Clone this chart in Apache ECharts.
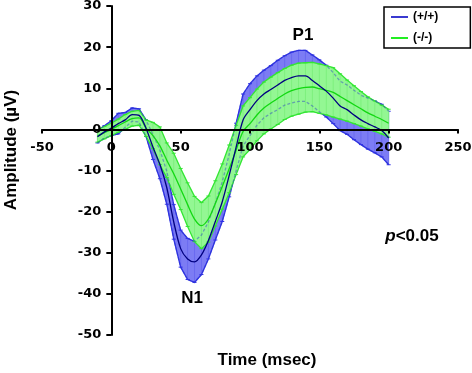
<!DOCTYPE html>
<html>
<head>
<meta charset="utf-8">
<script src="https://cdn.jsdelivr.net/npm/echarts@6/dist/echarts.min.js"></script>
<style>
html, body { margin: 0; padding: 0; background: #fff; }
#chart { width: 472px; height: 373px; }
</style>
</head>
<body>
<div id="chart"></div>
<script>
// time points (msec)
var times = [-10, -5, 0, 5, 10, 15, 20, 25, 30, 35, 40, 45, 50, 55, 60, 65, 70, 75, 80, 85, 90,
	95, 100, 105, 110, 115, 120, 125, 130, 135, 140, 145, 150, 155, 160, 165, 170, 175, 180, 185, 190, 195, 200];

// (+/+) mean and error
var wtMean = [-1.8, -0.6, 0.3, 1.4, 2.3, 3.6, 3.4, 0.3, -4.3, -8.5, -14.2, -22.5, -29, -31.5, -32.2, -30.5, -27, -22.4, -17.6, -11.2, -4.3,
	2.3, 4.8, 7.0, 8.6, 9.7, 10.8, 11.9, 12.6, 13.0, 13.0, 11.9, 10.6, 9.3, 7.6, 5.7, 4.8, 3.5, 2.3, 1.4, 0.6, -0.3, -2.1];
var wtErr = [1.5, 1.5, 1.8, 2.5, 1.8, 1.6, 1.6, 2, 3, 3.5, 4, 4.2, 4.5, 5, 5, 4.8, 4.5, 4.5, 4.8, 5.2, 5.8,
	6.3, 6.3, 6, 5.8, 5.8, 6, 6, 6.2, 6.2, 6.2, 6.2, 6.3, 6.3, 6.2, 6, 6, 6, 6, 6.2, 6.3, 6.4, 6.5];

// (-/-) mean and error
var koMean = [-1.6, -0.8, 0.0, 0.9, 1.8, 2.6, 2.8, 0.3, -1.5, -4, -7.5, -10.8, -14.5, -18.3, -21.8, -23.4, -21.8, -18, -13.9, -9.6, -5,
	-0.5, 1.4, 3.5, 5.2, 6.4, 7.5, 8.6, 9.4, 9.9, 10.2, 10.3, 9.9, 9.5, 9.0, 8.0, 7.0, 6.0, 5.0, 4.0, 3.2, 2.4, 1.5];
var koErr = [1.5, 1.5, 1.5, 1.6, 1.8, 1.8, 1.8, 2, 3.2, 4.6, 4.2, 5, 5, 5.3, 5.5, 5.6, 5.6, 5.5, 5.5, 5.8, 6,
	6.2, 6.3, 6.3, 6.3, 6.3, 6.3, 6.2, 6.2, 6.2, 6.0, 6.0, 6.0, 6.0, 6.0, 5.5, 5, 4.6, 4.2, 3.9, 3.7, 3.5, 3.4];

var seriesNames = ['(+/+)', '(-/-)'];

var xMin = -50, xMax = 250, xStep = 50;
var yMin = -50, yMax = 30, yStep = 10;

var chart = echarts.init(document.getElementById('chart'));

// grid box in pixels, axes crossing at (0, 0)
var gLeft = 42, gRight = 14, gTop = 6, gBottom = 38;
var gW = 472 - gLeft - gRight, gH = 373 - gTop - gBottom;
var yAxisShift = -gW * (0 - xMin) / (xMax - xMin);   // move y axis from left edge to x = 0
var xAxisShift = -gH * (0 - yMin) / (yMax - yMin);   // move x axis from bottom to y = 0

// whole error band drawn once (on the first data item) through api.coord
function bandSeries(mean, err, fill, edge, stripe) {
	return {
		type: 'custom',
		silent: true,
		clip: false,
		data: times.map(function (t, i) { return [t, mean[i]]; }),
		encode: { x: 0, y: 1 },
		renderItem: function (params, api) {
			if (params.dataIndex !== 0) return null;
			var up = [], lo = [], kids = [];
			for (var i = 0; i < times.length; i++) {
				up.push(api.coord([times[i], mean[i] + err[i]]));
				lo.push(api.coord([times[i], mean[i] - err[i]]));
			}
			kids.push({ type: 'polygon', shape: { points: up.concat(lo.slice().reverse()) },
				style: { fill: fill } });
			for (var j = 0; j < times.length; j++) {
				kids.push({ type: 'line', shape: { x1: up[j][0], y1: up[j][1], x2: lo[j][0], y2: lo[j][1] },
					style: { stroke: stripe, lineWidth: 1 } });
				kids.push({ type: 'line', shape: { x1: up[j][0] - 2, y1: up[j][1], x2: up[j][0] + 2, y2: up[j][1] },
					style: { stroke: edge, lineWidth: 1 } });
				kids.push({ type: 'line', shape: { x1: lo[j][0] - 2, y1: lo[j][1], x2: lo[j][0] + 2, y2: lo[j][1] },
					style: { stroke: edge, lineWidth: 1 } });
			}
			kids.push({ type: 'polyline', shape: { points: up }, style: { stroke: edge, lineWidth: 1.3, fill: null } });
			kids.push({ type: 'polyline', shape: { points: lo }, style: { stroke: edge, lineWidth: 1.3, fill: null } });
			return { type: 'group', children: kids };
		}
	};
}

// blue band edges seen through the green band
function edgeSeries(mean, err, color) {
	return {
		type: 'custom',
		silent: true,
		clip: false,
		data: times.map(function (t, i) { return [t, mean[i]]; }),
		encode: { x: 0, y: 1 },
		renderItem: function (params, api) {
			if (params.dataIndex !== 0) return null;
			var up = [], lo = [];
			for (var i = 0; i < times.length; i++) {
				up.push(api.coord([times[i], mean[i] + err[i]]));
				lo.push(api.coord([times[i], mean[i] - err[i]]));
			}
			return { type: 'group', children: [
				{ type: 'polyline', shape: { points: up }, style: { stroke: color, lineWidth: 1.3, lineDash: [3, 2], fill: null } },
				{ type: 'polyline', shape: { points: lo }, style: { stroke: color, lineWidth: 1.3, lineDash: [3, 2], fill: null } }
			] };
		}
	};
}

function meanLine(name, mean, color, width) {
	return {
		type: 'line',
		name: name,
		data: times.map(function (t, i) { return [t, mean[i]]; }),
		showSymbol: false,
		smooth: 0.3,
		lineStyle: { color: color, width: width },
		itemStyle: { color: color },
		silent: true
	};
}

var labelFont = { fontFamily: 'DejaVu Sans', fontWeight: 'bold', fontSize: 13, color: '#000' };
var titleFont = 'Liberation Sans';

var option = {
	animation: false,
	grid: { left: gLeft, right: gRight, top: gTop, bottom: gBottom, outerBoundsMode: 'none' },
	xAxis: {
		type: 'value', min: xMin, max: xMax, interval: xStep,
		position: 'bottom', offset: xAxisShift, z: 10,
		axisLine: { onZero: false, lineStyle: { color: '#000', width: 2 } },
		axisTick: { length: 4, lineStyle: { color: '#000', width: 2 } },
		splitLine: { show: false },
		axisLabel: Object.assign({ margin: 12 }, labelFont)
	},
	yAxis: {
		type: 'value', min: yMin, max: yMax, interval: yStep,
		position: 'left', offset: yAxisShift, z: 10,
		axisLine: { onZero: false, lineStyle: { color: '#000', width: 2 } },
		axisTick: { length: 5, lineStyle: { color: '#000', width: 2 } },
		splitLine: { show: false },
		axisLabel: Object.assign({ margin: 10 }, labelFont)
	},
	legend: {
		orient: 'vertical',
		left: 384, top: 7,
		padding: [4, 32, 4, 7],
		itemGap: 9,
		itemWidth: 17, itemHeight: 2,
		icon: 'rect',
		borderColor: '#000', borderWidth: 1.5,
		textStyle: { fontFamily: titleFont, fontWeight: 'bold', fontSize: 12, color: '#000' },
		data: [
			{ name: seriesNames[0], itemStyle: { color: '#3a3ad0' } },
			{ name: seriesNames[1], itemStyle: { color: '#22ee22' } }
		]
	},
	series: [
		bandSeries(wtMean, wtErr, '#7c7cf4', '#3030e6', '#6a6af0'),
		bandSeries(koMean, koErr, '#93f793', '#33e633', '#7ef07e'),
		edgeSeries(wtMean, wtErr, 'rgba(40,60,200,0.45)'),
		meanLine(seriesNames[1], koMean, '#12d812', 1.3),
		meanLine(seriesNames[0], wtMean, '#000080', 1.3)
	],
	graphic: [
		{ type: 'text', x: 11, y: 150, rotation: Math.PI / 2,
			style: { text: 'Amplitude (\u00b5V)', fill: '#000', font: 'bold 17px "Liberation Sans"', align: 'center', verticalAlign: 'middle' } },
		{ type: 'text', x: 267, y: 360,
			style: { text: 'Time (msec)', fill: '#000', font: 'bold 17px "Liberation Sans"', align: 'center', verticalAlign: 'middle' } },
		{ type: 'text', x: 303, y: 35,
			style: { text: 'P1', fill: '#000', font: 'bold 17px "Liberation Sans"', align: 'center', verticalAlign: 'middle' } },
		{ type: 'text', x: 192, y: 298,
			style: { text: 'N1', fill: '#000', font: 'bold 17px "Liberation Sans"', align: 'center', verticalAlign: 'middle' } },
		{ type: 'text', x: 412, y: 236,
			style: { text: '{i|p}<0.05', fill: '#000', font: 'bold 17px "Liberation Sans"', align: 'center', verticalAlign: 'middle',
				rich: { i: { fontStyle: 'italic', fontWeight: 'bold', fontSize: 17, fontFamily: 'Liberation Sans' } } } }
	]
};

chart.setOption(option);
</script>
</body>
</html>
